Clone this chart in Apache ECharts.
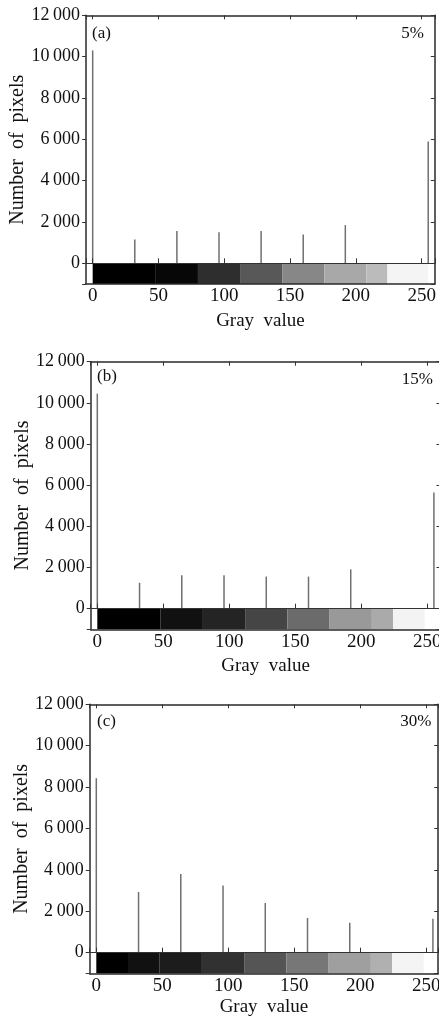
<!DOCTYPE html>
<html>
<head>
<meta charset="utf-8">
<script src="https://cdn.jsdelivr.net/npm/echarts@6/dist/echarts.min.js"></script>
<style>
html,body{margin:0;padding:0;background:#fff;}
#chart{width:439px;height:1017px;}
</style>
</head>
<body>
<div id="chart"></div>
<script>
// ---- data ----
const peakGray = [0, 32, 64, 96, 128, 160, 192, 255];
const countsA = [10300, 1150, 1560, 1500, 1560, 1400, 1850, 5900];
const countsB = [10450, 1260, 1620, 1620, 1560, 1560, 1910, 5650];
const countsC = [8430, 2930, 3800, 3250, 2400, 1680, 1450, 1640];

const stripEdgesA = [0, 48, 80, 112, 144, 176, 208, 224, 255];
const stripShadesA = [0, 7, 46, 88, 135, 168, 187, 244];
const stripEdgesB = [0, 48, 80, 112, 144, 176, 208, 224, 248];
const stripShadesB = [0, 17, 36, 69, 107, 153, 170, 243];
const stripEdgesC = [0, 24, 48, 80, 112, 144, 176, 208, 224, 248];
const stripShadesC = [0, 17, 28, 49, 85, 119, 159, 176, 244];

const panelTags = ['(a)', '(b)', '(c)'];
const panelPercents = ['5%', '15%', '30%'];
const yTickLabels = ['0', '2 000', '4 000', '6 000', '8 000', '10 000', '12 000'];
const xTickLabels = ['0', '50', '100', '150', '200', '250'];

const Y_MIN = -1000, Y_MAX = 12000;
const X_MIN = -5;

// ---- layout ----
const FONT = '"Liberation Serif", "Times New Roman", serif';
const panels = [
  {counts: countsA, edges: stripEdgesA, shades: stripShadesA, left: 86.1, top: 15.3, width: 348.7, height: 268.7, xMax: 260, xNameGap: 28, tagX: 92, tagY: 34, pctX: 424, pctY: 34},
  {counts: countsB, edges: stripEdgesB, shades: stripShadesB, left: 90.7, top: 361.7, width: 349.8, height: 267.6, xMax: 260, xNameGap: 27, tagX: 97, tagY: 377, pctX: 433, pctY: 380},
  {counts: countsC, edges: stripEdgesC, shades: stripShadesC, left: 89.7, top: 704.3, width: 348.5, height: 269.1, xMax: 259, xNameGap: 24, tagX: 97, tagY: 722, pctX: 431.5, pctY: 722}
];

function yLabel(v) {
  const i = Math.round(v / 2000);
  if (v < 0 || v % 2000 !== 0 || i >= yTickLabels.length) return '';
  return yTickLabels[i].replace(' ', '\u2009');
}
function xLabel(v) {
  const i = Math.round(v / 50);
  if (v < 0 || v % 50 !== 0 || i >= xTickLabels.length) return '';
  return xTickLabels[i];
}

const grid = [], xAxis = [], yAxis = [], series = [], graphic = [];
const frame = {show: true, onZero: false, lineStyle: {color: '#2a2a2a', width: 1.5}};

panels.forEach((p, i) => {
  grid.push({left: p.left, top: p.top, width: p.width, height: p.height, containLabel: false, outerBoundsMode: 'none'});
  const base = {type: 'value', gridIndex: i, min: X_MIN, max: p.xMax, minInterval: 50, maxInterval: 50, splitLine: {show: false}, z: 10};
  // bottom labelled axis
  xAxis.push(Object.assign({}, base, {
    position: 'bottom', axisLine: frame,
    axisTick: {show: false},
    axisLabel: {formatter: xLabel, fontFamily: FONT, fontSize: 19, color: '#111', margin: 3, hideOverlap: false},
    name: 'Gray  value', nameLocation: 'middle', nameGap: p.xNameGap, nameMoveOverlap: false,
    nameTextStyle: {fontFamily: FONT, fontSize: 19, color: '#111', verticalAlign: 'top'}
  }));
  // top frame axis
  xAxis.push(Object.assign({}, base, {
    position: 'top', axisLine: frame,
    axisTick: {show: true, inside: true, length: 4, lineStyle: {color: '#333'}},
    axisLabel: {show: false}
  }));
  // zero line axis
  xAxis.push(Object.assign({}, base, {
    position: 'bottom', offset: -p.height * (0 - Y_MIN) / (Y_MAX - Y_MIN),
    axisLine: {show: true, onZero: false, lineStyle: {color: '#333', width: 1.2}},
    axisTick: {show: true, inside: true, length: 5, lineStyle: {color: '#333'}},
    axisLabel: {show: false}
  }));
  const ybase = {type: 'value', gridIndex: i, min: Y_MIN, max: Y_MAX, minInterval: 2000, maxInterval: 2000, splitLine: {show: false}, z: 10};
  yAxis.push(Object.assign({}, ybase, {
    position: 'left', axisLine: frame,
    axisTick: {show: true, inside: false, length: 4, lineStyle: {color: '#333'}},
    axisLabel: {formatter: yLabel, fontFamily: FONT, fontSize: 18, color: '#111', margin: 6},
    name: 'Number  of  pixels', nameLocation: 'middle', nameGap: 58, nameMoveOverlap: false,
    nameTextStyle: {fontFamily: FONT, fontSize: 20, color: '#111'}
  }));
  yAxis.push(Object.assign({}, ybase, {
    position: 'right', axisLine: frame,
    axisTick: {show: true, inside: true, length: 4, lineStyle: {color: '#333'}},
    axisLabel: {show: false}
  }));

  const segs = p.shades.map((s, k) => [p.edges[k], p.edges[k + 1], s]);
  series.push({
    type: 'custom', xAxisIndex: 3 * i, yAxisIndex: 2 * i, z: 2, silent: true,
    data: segs, encode: {x: [0, 1], y: 2},
    renderItem: function (params, api) {
      const a = api.coord([api.value(0), 0]);
      const b = api.coord([api.value(1), Y_MIN]);
      const g = Math.round(api.value(2));
      return {type: 'rect', shape: {x: a[0], y: a[1], width: b[0] - a[0], height: b[1] - a[1]},
        style: {fill: 'rgb(' + g + ',' + g + ',' + g + ')', stroke: null}};
    }
  });
  series.push({
    type: 'bar', xAxisIndex: 3 * i, yAxisIndex: 2 * i, z: 3, barWidth: 1.5, silent: true,
    itemStyle: {color: '#707070'},
    data: peakGray.map((g, k) => [g, p.counts[k]])
  });

  graphic.push({type: 'text', x: p.tagX, y: p.tagY, z: 20,
    style: {text: panelTags[i], font: '17px ' + FONT, fill: '#111', verticalAlign: 'middle', align: 'left'}});
  graphic.push({type: 'text', x: p.pctX, y: p.pctY, z: 20,
    style: {text: panelPercents[i], font: '17px ' + FONT, fill: '#111', verticalAlign: 'middle', align: 'right'}});
});

const chart = echarts.init(document.getElementById('chart'), null, {renderer: 'canvas'});
chart.setOption({animation: false, backgroundColor: '#fff', grid, xAxis, yAxis, series, graphic});
</script>
</body>
</html>
